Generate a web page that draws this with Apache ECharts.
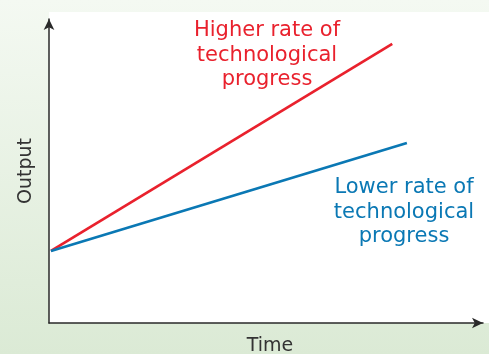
<!DOCTYPE html>
<html>
<head>
<meta charset="utf-8">
<script src="https://cdn.jsdelivr.net/npm/echarts@6/dist/echarts.min.js"></script>
<style>
  html, body { margin: 0; padding: 0; }
  #chart { width: 489px; height: 354px; }
</style>
</head>
<body>
<div id="chart"></div>
<script>
// time runs 0..110, output 0..100 (no ticks shown, schematic diagram)
const timePoints = [0.5, 87];
const timePointsLow = [0.5, 90.7];
const higherOutput = [23.7, 91.8];
const lowerOutput = [23.7, 59.2];

const higherLabel = 'Higher rate of\ntechnological\nprogress';
const lowerLabel = 'Lower rate of\ntechnological\nprogress';

const RED = '#e9212d';
const BLUE = '#0a78b4';
const FONT = '"DejaVu Sans", Verdana, sans-serif';

const chart = echarts.init(document.getElementById('chart'));

const axisLine = {
  lineStyle: { color: '#2a2a2a', width: 1.5 },
  symbol: ['none', 'arrow'],
  symbolSize: [8, 11]
};

chart.setOption({
  animation: false,
  backgroundColor: new echarts.graphic.LinearGradient(0, 0, 0, 1, [
    { offset: 0, color: '#f4f9f2' },
    { offset: 1, color: '#dbead5' }
  ]),
  grid: { left: 49, right: 6, top: 19, bottom: 31, outerBoundsMode: 'none' },
  xAxis: {
    type: 'value',
    min: 0,
    max: 110,
    name: 'Time',
    nameLocation: 'middle',
    nameGap: 14,
    nameTextStyle: { color: '#333', fontSize: 19, fontFamily: FONT, padding: [0, 0, 0, 8] },
    axisLine: axisLine,
    axisTick: { show: false },
    axisLabel: { show: false },
    splitLine: { show: false }
  },
  yAxis: {
    type: 'value',
    min: 0,
    max: 100,
    name: 'Output',
    nameLocation: 'middle',
    nameGap: 13,
    nameTextStyle: { color: '#333', fontSize: 19, fontFamily: FONT },
    axisLine: axisLine,
    axisTick: { show: false },
    axisLabel: { show: false },
    splitLine: { show: false }
  },
  graphic: [
    {
      type: 'rect',
      z: -10,
      shape: { x: 49, y: 12, width: 440, height: 311 },
      style: { fill: '#ffffff' }
    },
    {
      type: 'text',
      x: 267,
      y: 18.5,
      style: {
        text: higherLabel,
        fill: RED,
        font: '21px ' + FONT,
        align: 'center',
        lineHeight: 24.5
      }
    },
    {
      type: 'text',
      x: 404,
      y: 175.5,
      style: {
        text: lowerLabel,
        fill: BLUE,
        font: '21px ' + FONT,
        align: 'center',
        lineHeight: 24.5
      }
    }
  ],
  series: [
    {
      type: 'line',
      data: timePoints.map((t, i) => [t, higherOutput[i]]),
      symbol: 'none',
      lineStyle: { color: RED, width: 2.7 },
      z: 3
    },
    {
      type: 'line',
      data: timePointsLow.map((t, i) => [t, lowerOutput[i]]),
      symbol: 'none',
      lineStyle: { color: BLUE, width: 2.7 },
      z: 3
    }
  ]
});
</script>
</body>
</html>
